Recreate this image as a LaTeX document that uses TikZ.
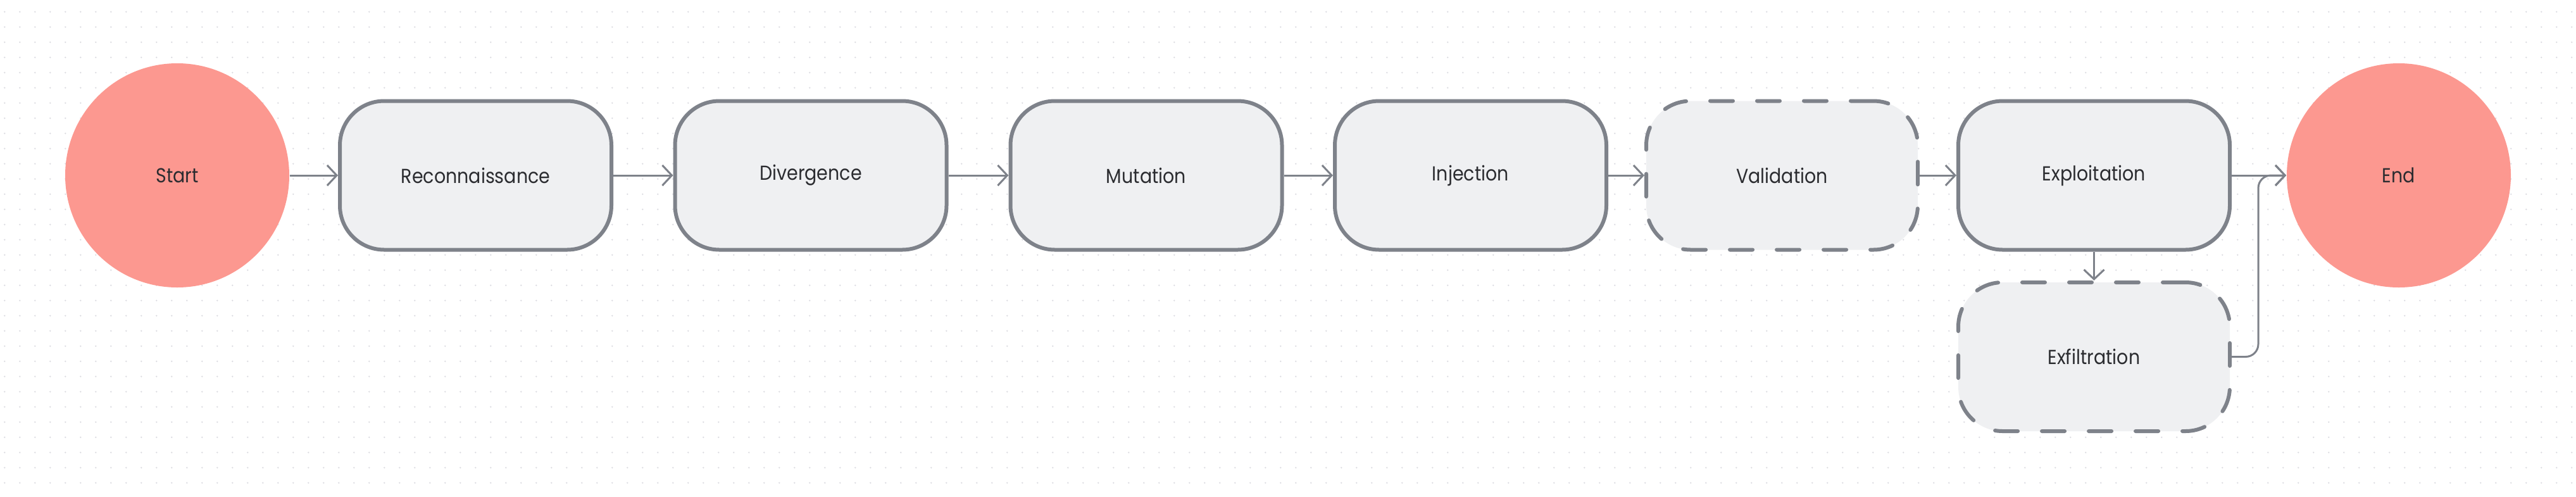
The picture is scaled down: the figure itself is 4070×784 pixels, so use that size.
\documentclass[tikz,border=0pt]{standalone}
\usepackage{fontspec}
\setmainfont{Poppins}[FakeStretch=0.89]
\usetikzlibrary{arrows.meta}
\definecolor{dotc}{HTML}{DCDCE2}
\definecolor{termfill}{HTML}{FC9890}
\definecolor{boxfill}{HTML}{EFF0F2}
\definecolor{boxline}{HTML}{7E828A}
\definecolor{txt}{HTML}{2B2C30}
\begin{document}
\begin{tikzpicture}[x=0.25pt,y=-0.25pt,
  term/.style={circle,fill=termfill,minimum size=88.5pt,inner sep=0pt,text=txt,font=\fontsize{8}{10}\selectfont},
  stepbox/.style={rectangle,rounded corners=17.5pt,draw=boxline,line width=1.5pt,fill=boxfill,minimum width=107.25pt,minimum height=58.75pt,inner sep=0pt,text=txt,font=\fontsize{8}{10}\selectfont},
  dashbox/.style={dash pattern=on 9pt off 9.5pt,line cap=round},
  conn/.style={draw=boxline,line width=0.75pt,-{Straight Barb[length=3.75pt,width=8pt]}}
]
\useasboundingbox (0,0) rectangle (4070,784);
\fill[white] (0,0) rectangle (4070,784);
\foreach \i in {0,...,169}{\foreach \j in {0,...,32}{\fill[dotc] ({7.3+24*\i},{18.7+24*\j}) circle[radius=0.33pt];}}
\node[term] (start) at (280,277) {Start};
\node[stepbox] (recon) at (751.5,277) {Reconnaissance};
\node[stepbox] (div) at (1281,277) {Divergence};
\node[stepbox] (mut) at (1811,277) {Mutation};
\node[stepbox] (inj) at (2323.5,277) {Injection};
\node[stepbox,dashbox] (val) at (2815.5,277) {Validation};
\node[stepbox] (expl) at (3308.5,277) {Exploitation};
\node[stepbox,dashbox] (exfil) at (3308.5,563.5) {Exfiltration};
\node[term] (end) at (3790,277) {End};
\coordinate (bend) at (3568,563.5);
\draw[conn] (start.east) -- (recon.west);
\draw[conn] (recon.east) -- (div.west);
\draw[conn] (div.east) -- (mut.west);
\draw[conn] (mut.east) -- (inj.west);
\draw[conn] (inj.east) -- (val.west);
\draw[conn] (val.east) -- (expl.west);
\draw[conn] (expl.east) -- (end.west);
\draw[conn] (expl.south) -- (exfil.north);
\draw[conn,rounded corners=5pt] (exfil.east) -- (bend) |- (end.west);
\end{tikzpicture}
\end{document}
